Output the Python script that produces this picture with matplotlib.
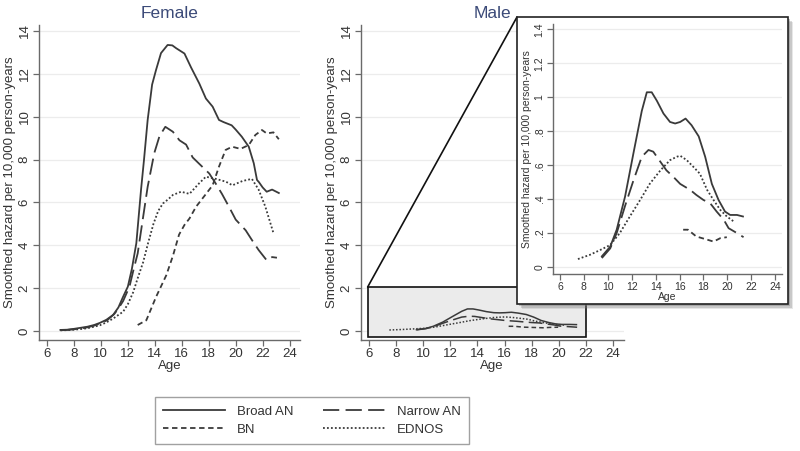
import matplotlib
matplotlib.use("Agg")
import matplotlib.pyplot as plt
from matplotlib.patches import Rectangle, ConnectionPatch

plt.rcParams['font.family'] = ['Liberation Sans', 'DejaVu Sans']

# ---------------- Data ----------------
# Female
f_broad_age = [7.0, 7.5, 8.0, 8.5, 9.0, 9.5, 9.93, 10.4, 10.91, 11.3, 11.65, 12.0, 12.3, 12.63,
               12.98, 13.2, 13.47, 13.8, 14.09, 14.46, 14.95, 15.3, 15.58, 16.2, 16.69, 17.3,
               17.79, 18.29, 18.76, 19.1, 19.7, 20.0, 20.45, 20.97, 21.34, 21.58, 21.72, 22.0,
               22.3, 22.7, 23.2]
f_broad = [0.05, 0.06, 0.1, 0.15, 0.2, 0.28, 0.38, 0.52, 0.75, 1.1, 1.6, 2.07, 2.9, 4.1,
           6.6, 8.0, 9.85, 11.5, 12.18, 12.97, 13.35, 13.33, 13.2, 12.95, 12.3, 11.55,
           10.85, 10.47, 9.85, 9.75, 9.6, 9.4, 9.07, 8.6, 7.83, 7.05, 6.95, 6.7,
           6.5, 6.6, 6.44]

f_narrow_age = [7.0, 7.5, 8.0, 8.5, 9.0, 9.5, 10.0, 10.5, 11.0, 11.3, 11.65, 12.12, 12.4, 12.73,
                13.1, 13.47, 13.96, 14.35, 14.78, 15.34, 15.83, 16.32, 16.81, 17.3, 18.04, 18.5,
                18.98, 19.5, 20.0, 20.74, 21.2, 21.7, 22.3, 22.7, 23.06]
f_narrow = [0.04, 0.05, 0.08, 0.12, 0.17, 0.25, 0.36, 0.52, 0.8, 1.05, 1.4, 2.07, 2.8, 3.62,
            5.18, 6.73, 8.3, 9.1, 9.53, 9.3, 8.9, 8.7, 8.1, 7.8, 7.35, 6.9,
            6.4, 5.8, 5.2, 4.7, 4.25, 3.78, 3.3, 3.45, 3.42]

f_bn_age = [12.73, 13.37, 14.1, 14.85, 15.34, 15.8, 16.2, 16.57, 17.06, 17.8, 18.29, 18.76, 19.25,
            19.74, 20.36, 20.97, 21.46, 21.95, 22.3, 22.8, 23.2]
f_bn = [0.28, 0.5, 1.6, 2.6, 3.5, 4.5, 4.95, 5.25, 5.8, 6.4, 6.8, 7.67, 8.45,
        8.6, 8.5, 8.68, 9.15, 9.38, 9.22, 9.27, 8.95]

f_ednos_age = [7.0, 7.5, 8.0, 8.5, 9.0, 9.5, 9.93, 10.4, 10.91, 11.3, 11.65, 12.0, 12.39, 12.75,
               13.13, 13.5, 13.9, 14.25, 14.6, 15.0, 15.34, 15.95, 16.57, 17.3, 17.79, 18.53,
               19.27, 19.76, 20.5, 21.2, 21.7, 22.2, 22.8]
f_ednos = [0.03, 0.04, 0.06, 0.09, 0.13, 0.2, 0.27, 0.4, 0.58, 0.75, 0.9, 1.25, 1.8, 2.5,
           3.2, 4.1, 5.0, 5.6, 5.95, 6.15, 6.35, 6.5, 6.4, 6.9, 7.2, 7.1,
           6.97, 6.8, 7.0, 7.1, 6.6, 5.8, 4.57]

# Male
m_broad_age = [9.5, 10.2, 10.74, 11.44, 12.14, 12.84, 13.26, 13.67, 14.1, 14.65, 15.2, 15.63,
               16.05, 16.5, 17.0, 17.6, 18.14, 18.7, 19.26, 19.8, 20.23, 20.8, 21.3]
m_broad = [0.063, 0.12, 0.22, 0.415, 0.67, 0.92, 1.03, 1.03, 0.98, 0.905, 0.855, 0.846,
           0.855, 0.875, 0.836, 0.77, 0.65, 0.49, 0.395, 0.327, 0.307, 0.307, 0.298]

m_narrow_age = [9.5, 10.2, 10.74, 11.44, 12.14, 12.84, 13.4, 13.8, 14.4, 14.9, 15.5, 16.05,
                16.9, 17.4, 18.0, 18.56, 19.1, 19.7, 20.1, 20.8, 21.35]
m_narrow = [0.053, 0.11, 0.2, 0.36, 0.51, 0.65, 0.69, 0.68, 0.62, 0.57, 0.53, 0.49,
            0.454, 0.425, 0.395, 0.376, 0.327, 0.278, 0.229, 0.2, 0.176]

m_bn_age = [16.3, 16.7, 17.4, 18.14, 18.84, 19.4, 19.95]
m_bn = [0.22, 0.22, 0.18, 0.165, 0.15, 0.17, 0.176]

m_ednos_age = [7.5, 8.5, 9.35, 10.2, 11.0, 11.86, 12.7, 13.5, 14.4, 15.2, 15.77, 16.05,
               16.6, 17.16, 17.7, 18.3, 18.84, 19.4, 19.95, 20.5]
m_ednos = [0.047, 0.072, 0.10, 0.13, 0.2, 0.3, 0.395, 0.49, 0.57, 0.63, 0.65, 0.656,
           0.63, 0.59, 0.55, 0.455, 0.395, 0.337, 0.298, 0.27]

series_labels = ["Broad AN", "Narrow AN", "BN", "EDNOS"]
x_ticks = [6, 8, 10, 12, 14, 16, 18, 20, 22, 24]
y_ticks_main = [0, 2, 4, 6, 8, 10, 12, 14]
y_ticks_inset = [0, 0.2, 0.4, 0.6, 0.8, 1.0, 1.2, 1.4]
y_ticklabels_inset = ["0", ".2", ".4", ".6", ".8", "1", "1.2", "1.4"]

# ---------------- Styles ----------------
LC = '#3a3a3a'
styles = [
    dict(linestyle='-'),
    dict(linestyle=(0, (9, 3.5))),
    dict(linestyle=(0, (3, 2))),
    dict(linestyle=(0, (1, 1.2))),
]
W, H = 800, 451
fig = plt.figure(figsize=(8, 4.51), dpi=100)

def frac(x0, y0, x1, y1):
    return [x0 / W, 1 - y1 / H, (x1 - x0) / W, (y1 - y0) / H]

ylabel = "Smoothed hazard per 10,000 person-years"

def style_axes(ax, yticks, yticklabels, fs, lfs, ylim, xlim):
    ax.set_xlim(*xlim)
    ax.set_ylim(*ylim)
    ax.set_xticks(x_ticks)
    ax.set_yticks(yticks)
    ax.set_yticklabels(yticklabels, rotation=90, va='center')
    for s in ['top', 'right']:
        ax.spines[s].set_visible(False)
    for s in ['left', 'bottom']:
        ax.spines[s].set_color('#6a6a6a')
        ax.spines[s].set_linewidth(1.0)
    ax.tick_params(axis='both', colors='#6a6a6a', labelcolor='#333333',
                   labelsize=fs, length=4, width=0.9, pad=2)
    ax.grid(axis='y', color='#ececec', linewidth=0.9)
    ax.set_axisbelow(True)
    ax.set_xlabel("Age", fontsize=lfs, color='#333333', labelpad=0)
    ax.set_ylabel(ylabel, fontsize=lfs, color='#333333', labelpad=2)

def draw(ax, data, lw):
    hs = []
    for (xa, ya), st in zip(data, styles):
        h, = ax.plot(xa, ya, color=LC, linewidth=lw, zorder=3, **st)
        hs.append(h)
    return hs

female_data = [(f_broad_age, f_broad), (f_narrow_age, f_narrow), (f_bn_age, f_bn), (f_ednos_age, f_ednos)]
male_data = [(m_broad_age, m_broad), (m_narrow_age, m_narrow), (m_bn_age, m_bn), (m_ednos_age, m_ednos)]

main_ylim = (-0.42, 14.3)
main_xlim = (5.41, 24.77)

# Female panel
axf = fig.add_axes(frac(39, 24.6, 300, 340))
handles = draw(axf, female_data, 1.3)
style_axes(axf, y_ticks_main, [str(v) for v in y_ticks_main], 9.5, 9.5, main_ylim, main_xlim)
axf.set_title("Female", fontsize=12.5, color='#3b4a78', pad=5)

# Male panel
axm = fig.add_axes(frac(361, 24.6, 623.5, 340))
draw(axm, male_data, 1.1)
style_axes(axm, y_ticks_main, [str(v) for v in y_ticks_main], 9.5, 9.5, main_ylim, main_xlim)
axm.set_title("Male", fontsize=12.5, color='#3b4a78', pad=5)
rect = Rectangle((5.9, -0.28), 22.0 - 5.9, 2.05 + 0.28, facecolor='#ebebeb',
                 edgecolor='#111111', linewidth=1.2, zorder=2)
axm.add_patch(rect)

# Connector line from zoom rectangle to inset box
con = ConnectionPatch(xyA=(5.9, 2.05), coordsA='data', axesA=axm,
                      xyB=(517 / W, 1 - 17 / H), coordsB='figure fraction',
                      color='#111111', linewidth=1.2, zorder=5)
fig.add_artist(con)

# Inset box with shadow
for i, a in enumerate([0.18, 0.28, 0.4]):
    off = 5 - i * 1.3
    sh = Rectangle(((517 + off) / W, 1 - (304 + off) / H), 271 / W, 287 / H,
                   transform=fig.transFigure, facecolor='#7a7a7a', alpha=a,
                   edgecolor='none', zorder=6)
    fig.add_artist(sh)
box = Rectangle((517 / W, 1 - 304 / H), 271 / W, 287 / H, transform=fig.transFigure,
                facecolor='white', edgecolor='#222222', linewidth=1.2, zorder=7)
fig.add_artist(box)

axi = fig.add_axes(frac(553, 24.4, 781.7, 274), zorder=8)
axi.patch.set_alpha(0)
draw(axi, male_data, 1.3)
style_axes(axi, y_ticks_inset, y_ticklabels_inset, 7.5, 7.5, (-0.041, 1.43), (5.415, 24.54))

# Legend
order = [0, 2, 1, 3]
leg = fig.legend([handles[i] for i in order], [series_labels[i] for i in order],
                 loc='center', ncol=2, mode='expand',
                 bbox_to_anchor=(155 / W, 1 - 446 / H, 314 / W, 51 / H),
                 fontsize=9.5, handlelength=4.7, frameon=True, fancybox=False,
                 borderaxespad=0, columnspacing=2.0, handletextpad=0.9,
                 labelspacing=0.45, borderpad=0.6)
leg.get_frame().set_edgecolor('#8a8a8a')
leg.get_frame().set_linewidth(1.0)
for t in leg.get_texts():
    t.set_color('#333333')

fig.savefig("out.png", dpi=100)
